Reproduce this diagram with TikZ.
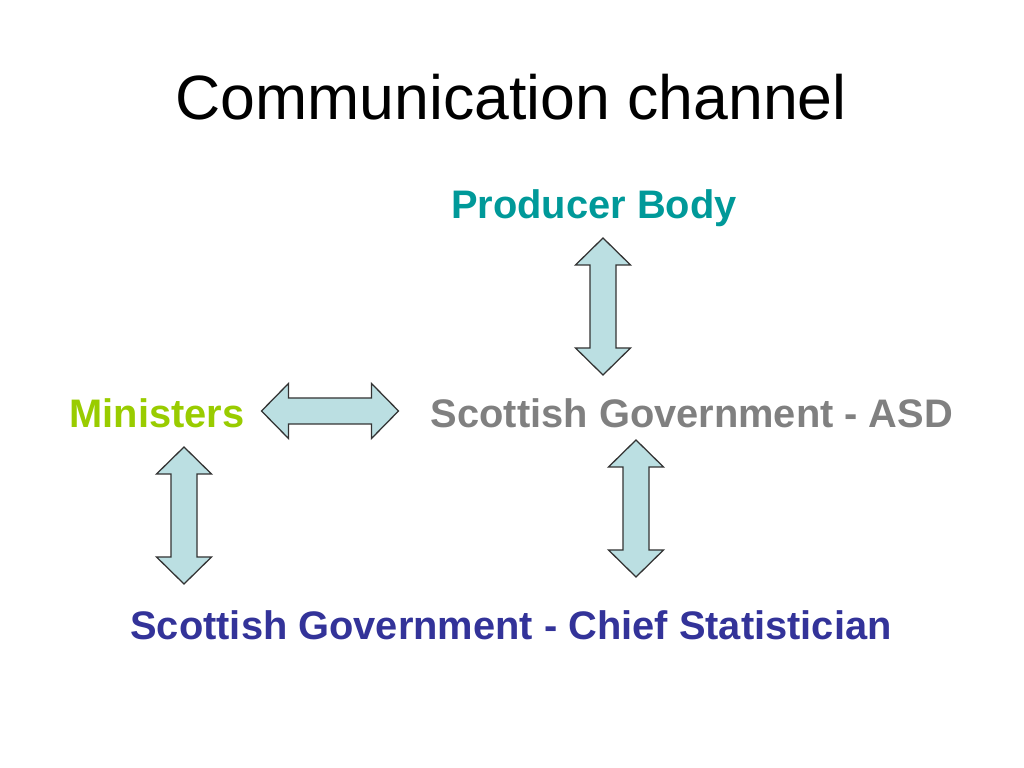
\documentclass[tikz,border=0pt]{standalone}
\usepackage{fontspec}
\setmainfont{Liberation Sans}
\definecolor{teal1}{HTML}{009999}
\definecolor{lime1}{HTML}{99CC00}
\definecolor{gray1}{HTML}{808080}
\definecolor{navy1}{HTML}{333399}
\definecolor{arrfill}{HTML}{BBDFE2}
\definecolor{arrline}{HTML}{333333}
\tikzset{
  title/.style={anchor=base, inner sep=0pt, font=\fontsize{44}{50}\selectfont},
  lbl/.style={anchor=base, inner sep=0pt, font=\fontsize{28}{33}\selectfont\bfseries},
  dblarr/.pic={
    \filldraw[fill=arrfill, draw=arrline, line width=0.9pt, line join=miter]
      (0,68.5) -- (27.5,41.5) -- (13,41.5) -- (13,-41.5) -- (27.5,-41.5) -- (0,-68.5)
      -- (-27.5,-41.5) -- (-13,-41.5) -- (-13,41.5) -- (-27.5,41.5) -- cycle;
  }
}
\begin{document}
\begin{tikzpicture}[x=0.703125pt, y=0.703125pt]
\useasboundingbox (0,0) rectangle (1024,768);
\node[title] (t) at (511,648) {Communication channel};
\node[lbl, text=teal1] (pb) at (594,549) {Producer Body};
\node[lbl, text=lime1] (min) at (157,340) {Ministers};
\node[lbl, text=gray1] (asd) at (692,340) {Scottish Government - ASD};
\node[lbl, text=navy1] (cs) at (511,128) {Scottish Government - Chief Statistician};
\pic (a1) at (603,461.5) {dblarr};
\pic[rotate=90] (a2) at (330,357) {dblarr};
\pic (a3) at (184,252.5) {dblarr};
\pic (a4) at (636,259.5) {dblarr};
\end{tikzpicture}
\end{document}
